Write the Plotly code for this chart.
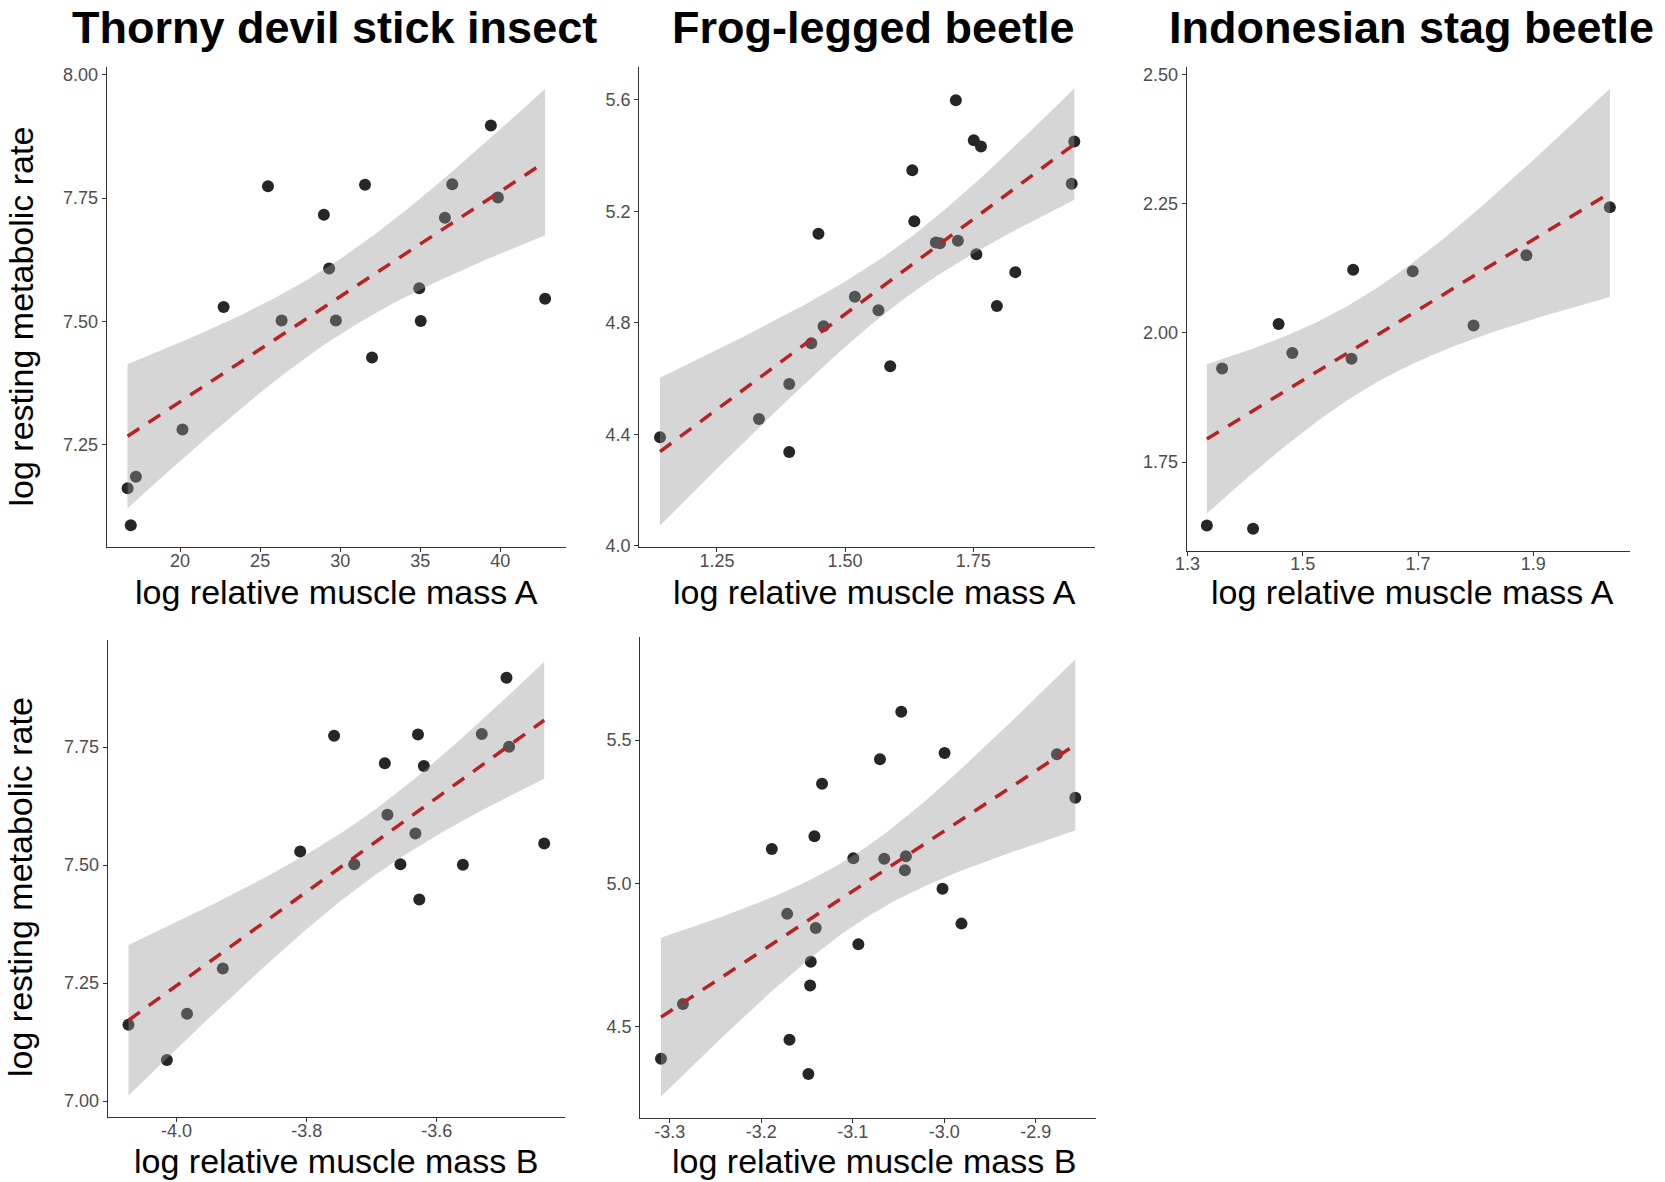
import numpy as np
import plotly.graph_objects as go

# ---------------- data ----------------
thorny_rate = [7.162, 7.185, 7.087, 7.281, 7.529, 7.774, 7.502, 7.716, 7.607, 7.502,
               7.777, 7.427, 7.567, 7.501, 7.710, 7.778, 7.897, 7.751, 7.546]
thorny_mass_a = [16.72, 17.24, 16.92, 20.15, 22.72, 25.49, 26.34, 28.98, 29.31, 29.73,
                 31.55, 31.99, 34.94, 35.03, 36.54, 37.00, 39.41, 39.85, 42.80]
thorny_mass_b = [-4.074, -3.984, -4.015, -3.929, -3.810, -3.758, -3.727, -3.680, -3.676, -3.656,
                 -3.629, -3.627, -3.633, -3.560, -3.620, -3.531, -3.493, -3.489, -3.435]

frog_rate = [4.389, 4.455, 4.580, 4.336, 4.727, 5.120, 4.788, 4.894, 4.845, 4.644, 5.348, 5.165,
             5.088, 5.086, 5.599, 5.095, 5.455, 5.046, 5.433, 4.860, 4.982, 5.299, 5.451]
frog_mass_a = [1.139, 1.332, 1.391, 1.391, 1.434, 1.448, 1.458, 1.519, 1.565, 1.588, 1.631, 1.635,
               1.677, 1.685, 1.716, 1.720, 1.751, 1.756, 1.765, 1.796, 1.832, 1.942, 1.947]
frog_mass_b = [-3.3095, -3.1691, -3.2855, -3.1484, -3.1458, -3.1884, -3.0938, -3.1716, -3.1404,
               -3.1465, -3.1335, -3.1418, -3.0993, -3.0655, -3.0469, -3.0418, -2.9996, -3.0429,
               -3.0702, -2.9811, -3.0018, -2.8567, -2.8767]

stag_rate = [1.627, 1.931, 1.621, 2.017, 1.961, 1.950, 2.122, 2.119, 2.014, 2.150, 2.243]
stag_mass_a = [1.3335, 1.360, 1.4137, 1.458, 1.4818, 1.5845, 1.5874, 1.6907, 1.7963, 1.888, 2.0328]

titles = ["Thorny devil stick insect", "Frog-legged beetle", "Indonesian stag beetle"]
x_title_a = "log relative muscle mass A"
x_title_b = "log relative muscle mass B"
y_title = "log resting metabolic rate"

# two-sided 95% t critical values by degrees of freedom
T_CRIT = {9: 2.2622, 17: 2.1098, 21: 2.0796}

# ---------------- helpers ----------------
W, H = 1665, 1182
FONT = "Liberation Sans, Arial, Helvetica, sans-serif"


def lm_fit(x, y, n_grid=80):
    x = np.asarray(x, float)
    y = np.asarray(y, float)
    n = len(x)
    b1, b0 = np.polyfit(x, y, 1)
    resid = y - (b0 + b1 * x)
    s2 = np.sum(resid ** 2) / (n - 2)
    xbar = x.mean()
    sxx = np.sum((x - xbar) ** 2)
    xg = np.linspace(x.min(), x.max(), n_grid)
    fit = b0 + b1 * xg
    se = np.sqrt(s2 * (1.0 / n + (xg - xbar) ** 2 / sxx))
    t = T_CRIT[n - 2]
    return xg, fit, fit - t * se, fit + t * se


def px_x(v):
    return v / W


def px_y(v):
    return 1 - v / H


panels = [
    dict(x=thorny_mass_a, y=thorny_rate, dom_x=(106.7, 566), dom_y=(67, 547),
         xt=[20, 25, 30, 35, 40], xf="{:.0f}", yt=[7.25, 7.50, 7.75, 8.00], yf="{:.2f}"),
    dict(x=frog_mass_a, y=frog_rate, dom_x=(639.3, 1095), dom_y=(66.7, 547.3),
         xt=[1.25, 1.50, 1.75], xf="{:.2f}", yt=[4.0, 4.4, 4.8, 5.2, 5.6], yf="{:.1f}"),
    dict(x=stag_mass_a, y=stag_rate, dom_x=(1186.7, 1630), dom_y=(66.7, 550.7),
         xt=[1.3, 1.5, 1.7, 1.9], xf="{:.1f}", yt=[1.75, 2.00, 2.25, 2.50], yf="{:.2f}"),
    dict(x=thorny_mass_b, y=thorny_rate, dom_x=(107.7, 565), dom_y=(640, 1117.3),
         xt=[-4.0, -3.8, -3.6], xf="{:.1f}", yt=[7.00, 7.25, 7.50, 7.75], yf="{:.2f}"),
    dict(x=frog_mass_b, y=frog_rate, dom_x=(640.3, 1096), dom_y=(637.3, 1118.3),
         xt=[-3.3, -3.2, -3.1, -3.0, -2.9], xf="{:.1f}", yt=[4.5, 5.0, 5.5], yf="{:.1f}"),
]

fig = go.Figure()
layout_axes = {}

for i, p in enumerate(panels, start=1):
    xa = "x" if i == 1 else f"x{i}"
    ya = "y" if i == 1 else f"y{i}"
    xg, fit, lo, hi = lm_fit(p["x"], p["y"])

    # points
    fig.add_trace(go.Scatter(x=p["x"], y=p["y"], mode="markers", xaxis=xa, yaxis=ya,
                             marker=dict(size=12, color="#262626", line=dict(width=0)),
                             hoverinfo="x+y"))
    # confidence ribbon (drawn over points, semi-transparent like ggplot)
    fig.add_trace(go.Scatter(x=np.concatenate([xg, xg[::-1]]),
                             y=np.concatenate([hi, lo[::-1]]),
                             mode="lines", fill="toself", fillcolor="rgba(153,153,153,0.4)",
                             line=dict(width=0), xaxis=xa, yaxis=ya, hoverinfo="skip"))
    # fitted line
    fig.add_trace(go.Scatter(x=xg, y=fit, mode="lines", xaxis=xa, yaxis=ya,
                             line=dict(color="#B82222", width=3.5, dash="14px,11px"),
                             hoverinfo="skip"))

    xmin, xmax = min(p["x"]), max(p["x"])
    xpad = 0.05 * (xmax - xmin)
    ymin = min(min(p["y"]), lo.min())
    ymax = max(max(p["y"]), hi.max())
    ypad = 0.05 * (ymax - ymin)

    axis_common = dict(showgrid=False, zeroline=False, showline=True, linecolor="#333333",
                       linewidth=1.3, ticks="outside", ticklen=4, tickwidth=1.3,
                       tickcolor="#333333", mirror=False, automargin=False,
                       tickfont=dict(family=FONT, size=18, color="#4d4d4d"))
    key_x = "xaxis" if i == 1 else f"xaxis{i}"
    key_y = "yaxis" if i == 1 else f"yaxis{i}"
    layout_axes[key_x] = dict(axis_common, domain=[px_x(p["dom_x"][0]), px_x(p["dom_x"][1])],
                              range=[xmin - xpad, xmax + xpad], anchor=ya, ticklabelstandoff=-7,
                              tickvals=p["xt"], ticktext=[p["xf"].format(v) for v in p["xt"]])
    layout_axes[key_y] = dict(axis_common, domain=[px_y(p["dom_y"][1]), px_y(p["dom_y"][0])],
                              range=[ymin - ypad, ymax + ypad], anchor=xa,
                              tickvals=p["yt"], ticktext=[p["yf"].format(v) for v in p["yt"]])

annotations = []
# panel titles (sitting on the top edge)
for txt, cx in zip(titles, [334.5, 873, 1411]):
    annotations.append(dict(text=f"<b>{txt}</b>", x=px_x(cx), y=1, xref="paper", yref="paper",
                            xanchor="center", yanchor="top", showarrow=False,
                            font=dict(family=FONT, size=45, color="black")))
# x axis titles (top row)
for txt, cx in [(x_title_a, 336), (x_title_a, 874.5), (x_title_a, 1412.5)]:
    annotations.append(dict(text=txt, x=px_x(cx), y=px_y(592), xref="paper", yref="paper",
                            xanchor="center", yanchor="middle", showarrow=False,
                            font=dict(family=FONT, size=34, color="black")))
# x axis titles (bottom row, sitting on the bottom edge)
for txt, cx in [(x_title_b, 336), (x_title_b, 874.5)]:
    annotations.append(dict(text=txt, x=px_x(cx), y=0, xref="paper", yref="paper",
                            xanchor="center", yanchor="bottom", showarrow=False,
                            font=dict(family=FONT, size=34, color="black")))
# y axis titles
for cy in [316.5, 887]:
    annotations.append(dict(text=y_title, x=px_x(20), y=px_y(cy), xref="paper", yref="paper",
                            xanchor="center", yanchor="middle", showarrow=False, textangle=-90,
                            font=dict(family=FONT, size=34, color="black")))

fig.update_layout(width=W, height=H, margin=dict(l=0, r=0, t=0, b=0, pad=0),
                  paper_bgcolor="white", plot_bgcolor="white", showlegend=False,
                  annotations=annotations, **layout_axes)

fig.write_html("out.html", config={"displayModeBar": False},
               post_script="document.body.style.margin='0';document.body.style.overflow='hidden';")
